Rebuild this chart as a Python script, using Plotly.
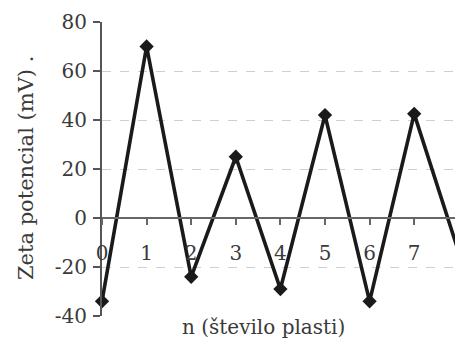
import plotly.graph_objects as go

n_layers = [0, 1, 2, 3, 4, 5, 6, 7, 8]
zeta_mv = [-34, 70, -24, 25, -29, 42, -34, 42.5, -14]
y_ticks = [-40, -20, 0, 20, 40, 60, 80]
y_tick_text = ["-40", "-20", "0", "20", "40", "60", "80"]
grid_vals = [-20, 20, 40, 60]
x_ticks = [0, 1, 2, 3, 4, 5, 6, 7, 8]

FONT = "DejaVu Serif"
TXT = "#3a3a3a"
W, H = 455, 339
L, R, T, B = 102, 0, 22, 339 - 316
PW, PH = W - L - R, H - T - B


def px_x(x):
    return (x - L) / PW


def px_y(y):
    return (H - B - y) / PH


fig = go.Figure()
fig.add_trace(go.Scatter(
    x=n_layers, y=zeta_mv, mode="lines+markers",
    line=dict(color="#1a1a1a", width=3.6),
    marker=dict(symbol="diamond", size=11, color="#1a1a1a"),
    cliponaxis=False, showlegend=False,
))

fig.update_layout(
    width=W, height=H,
    margin=dict(l=L, r=R, t=T, b=B),
    paper_bgcolor="white", plot_bgcolor="white",
    font=dict(family=FONT, size=20, color=TXT),
    hovermode=False,
    xaxis=dict(
        range=[0, PW / 44.6], tickvals=x_ticks,
        showgrid=False, zeroline=False,
        anchor="free", position=40 / 120,
        showline=True, linecolor="#666", linewidth=2,
        ticks="outside", ticklen=6, tickwidth=2, tickcolor="#666",
        ticklabelstandoff=11,
        tickfont=dict(family=FONT, size=20, color=TXT),
    ),
    yaxis=dict(
        range=[-40, 80], tickvals=y_ticks, ticktext=y_tick_text,
        showgrid=False, zeroline=False,
        showline=True, linecolor="#555", linewidth=2,
        ticks="outside", ticklen=7, tickwidth=2, tickcolor="#555",
        ticklabelstandoff=2,
        tickfont=dict(family=FONT, size=20, color=TXT),
        minor=dict(tickmode="array", tickvals=grid_vals, showgrid=True,
                   gridcolor="#cfcfcf", griddash="dash", gridwidth=1, ticklen=0),
    ),
    annotations=[
        dict(text="Zeta potencial (mV) .", xref="paper", yref="paper",
             x=px_x(26), y=px_y(168),
             showarrow=False, textangle=-90, font=dict(size=21, family=FONT, color=TXT),
             xanchor="center", yanchor="middle"),
        dict(text="n (število plasti)", xref="paper", yref="paper",
             x=px_x(263), y=px_y(327),
             showarrow=False, font=dict(size=20, family=FONT, color=TXT),
             xanchor="center", yanchor="middle"),
    ],
)

fig.write_html(
    "out.html",
    config={"displayModeBar": False},
    post_script="document.body.style.margin='0px';document.body.style.overflow='hidden';",
)
